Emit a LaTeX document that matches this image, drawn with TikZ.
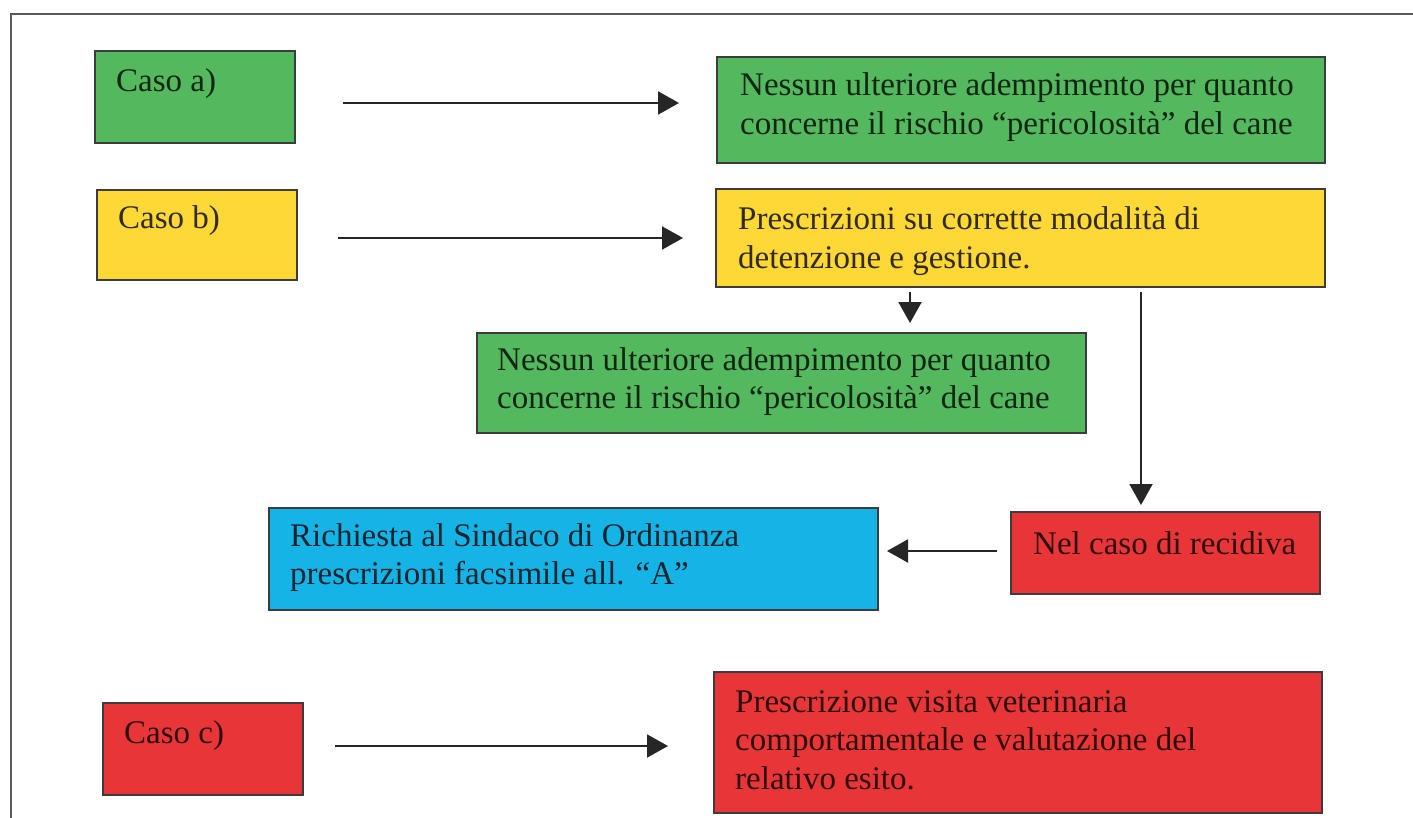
\documentclass[tikz,border=0pt]{standalone}
\usepackage{fontspec}
\setmainfont{Liberation Serif}
\usetikzlibrary{arrows.meta}

\definecolor{boxgreen}{RGB}{84,184,94}
\definecolor{boxyellow}{RGB}{253,216,55}
\definecolor{boxred}{RGB}{232,54,56}
\definecolor{boxblue}{RGB}{22,180,230}
\definecolor{edgegray}{RGB}{60,60,60}

\tikzset{
  box/.style={draw=edgegray, line width=2pt, rectangle, inner sep=0pt, anchor=north west},
  txt/.style={inner sep=0pt, anchor=base west, font=\fontsize{33}{38.5}\selectfont},
  flow/.style={draw=black!85, line width=2pt, -{Triangle[length=21pt,width=23pt]}},
  frameline/.style={draw=black!65, line width=1.5pt}
}

% text block whose baseline is that of its first line
\newcommand{\lines}[2]{\parbox[t]{#1}{\raggedright #2}}

\begin{document}
\begin{tikzpicture}[x=1pt,y=-1pt]
  \useasboundingbox (0,0) rectangle (1413,818);
  \fill[white] (0,0) rectangle (1413,818);

  % outer frame (open at the right and bottom)
  \draw[frameline] (11,818) -- (11,14) -- (1413,14);

  % ---- case a ----
  \node[box, fill=boxgreen, minimum width=200pt, minimum height=92pt] (ca) at (94,50) {};
  \node[txt, text=boxgreen!20!black] (cat) at (116,92) {Caso a)};
  \node[box, fill=boxgreen, minimum width=608pt, minimum height=106pt] (ra) at (716,56) {};
  \node[txt, text=boxgreen!20!black] (rat) at (740,96)
    {\lines{580pt}{Nessun ulteriore adempimento per quanto\\concerne il rischio “pericolosità” del cane}};

  % ---- case b ----
  \node[box, fill=boxyellow, minimum width=200pt, minimum height=90pt] (cb) at (96,189) {};
  \node[txt, text=boxyellow!20!black] (cbt) at (118,229) {Caso b)};
  \node[box, fill=boxyellow, minimum width=609pt, minimum height=98pt] (rb) at (715,188) {};
  \node[txt, text=boxyellow!20!black] (rbt) at (738,230)
    {\lines{580pt}{Prescrizioni su corrette modalità di\\detenzione e gestione.}};

  \node[box, fill=boxgreen, minimum width=609pt, minimum height=100pt] (gb) at (476,332) {};
  \node[txt, text=boxgreen!20!black] (gbt) at (497,370)
    {\lines{580pt}{Nessun ulteriore adempimento per quanto\\concerne il rischio “pericolosità” del cane}};

  \node[box, fill=boxred, minimum width=309pt, minimum height=82pt] (rec) at (1010,511) {};
  \node[txt, text=boxred!20!black] (rect) at (1033,554) {Nel caso di recidiva};

  \node[box, fill=boxblue, minimum width=609pt, minimum height=102pt] (sin) at (268,507) {};
  \node[txt, text=boxblue!20!black] (sint) at (290,546)
    {\lines{580pt}{Richiesta al Sindaco di Ordinanza\\prescrizioni facsimile all. “A”}};

  % ---- case c ----
  \node[box, fill=boxred, minimum width=200pt, minimum height=92pt] (cc) at (102,702) {};
  \node[txt, text=boxred!20!black] (cct) at (124,743) {Caso c)};
  \node[box, fill=boxred, minimum width=608pt, minimum height=141pt] (rc) at (713,671) {};
  \node[txt, text=boxred!20!black] (rct) at (735,712)
    {\lines{580pt}{Prescrizione visita veterinaria\\comportamentale e valutazione del\\relativo esito.}};

  % ---- connector end points ----
  \coordinate (a0) at (343,103);  \coordinate (a1) at (679,103);
  \coordinate (b0) at (338,238);  \coordinate (b1) at (683,238);
  \coordinate (c0) at (335,746);  \coordinate (c1) at (668,746);
  \coordinate (d0) at (910,292);  \coordinate (d1) at (910,323);
  \coordinate (e0) at (1141,292); \coordinate (e1) at (1141,505);
  \coordinate (f0) at (997,551);  \coordinate (f1) at (887,551);

  % ---- connectors ----
  \draw[flow] (a0) -- (a1);
  \draw[flow] (b0) -- (b1);
  \draw[flow] (c0) -- (c1);
  \draw[flow] (d0) -- (d1);
  \draw[flow] (e0) -- (e1);
  \draw[flow] (f0) -- (f1);
\end{tikzpicture}
\end{document}
